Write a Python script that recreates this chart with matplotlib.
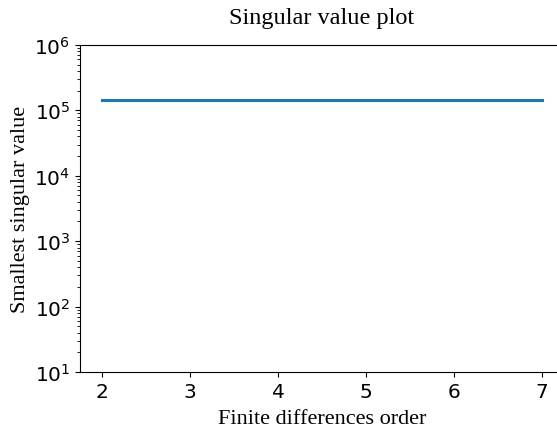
import matplotlib
matplotlib.use("Agg")
import matplotlib.pyplot as plt

# data
orders = [2, 3, 4, 5, 6, 7]
smallest_sv = [1.46e5, 1.46e5, 1.46e5, 1.46e5, 1.46e5, 1.46e5]

fig = plt.figure(figsize=(5.57, 4.35), dpi=100)
# axes run a little past the right edge, like the cropped original
ax = fig.add_axes([0.1435, 0.1425, 0.869, 0.752])

ax.plot(orders, smallest_sv, color="#1f77b4", linewidth=2.2)
ax.set_yscale("log")
ax.set_ylim(1e1, 1e6)
ax.set_xlim(1.75, 7.25)

ax.tick_params(axis="both", labelsize=14.5)
ax.set_title("Singular value plot", family="Liberation Serif", fontsize=17.5, pad=16)
ax.set_xlabel("Finite differences order", family="Liberation Serif", fontsize=16, labelpad=6)
ax.set_ylabel("Smallest singular value", family="Liberation Serif", fontsize=16, labelpad=3)
ax.spines["right"].set_visible(False)

fig.savefig("out.png", dpi=100)
